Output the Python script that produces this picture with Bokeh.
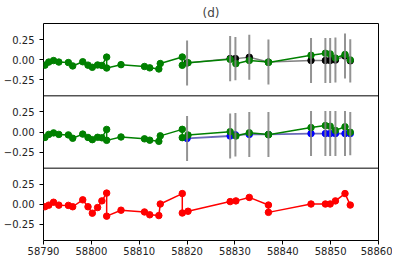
from bokeh.plotting import figure
from bokeh.models import Range1d, FixedTicker, ColumnDataSource, Span
from bokeh.embed import file_html
from bokeh.resources import INLINE

# ---- data ----
t = [58790.3, 58791.1, 58792.1, 58793.2, 58795.2, 58796.1, 58798.2, 58799.3,
     58800.2, 58801.3, 58802.2, 58803.2, 58803.2, 58806.2, 58811.1, 58812.2,
     58814.1, 58814.4, 58819.0, 58819.0, 58820.2, 58829.0, 58830.2, 58833.0,
     58837.0, 58837.0, 58845.9, 58848.9, 58849.9, 58851.0, 58853.0, 58854.1]
green = [-0.068, -0.03, -0.011, -0.03, -0.036, -0.078, -0.026, -0.068,
         -0.095, -0.066, -0.072, 0.032, -0.104, -0.062, -0.085, -0.102,
         -0.116, -0.048, 0.033, -0.07, -0.038, 0.004, -0.05, -0.01,
         -0.03, -0.035, 0.055, 0.08, 0.072, 0.02, 0.065, -0.003]
red = [-0.03, -0.01, 0.026, -0.01, -0.013, -0.03, 0.056, -0.03,
       -0.11, -0.04, 0.043, 0.14, -0.147, -0.073, -0.095, -0.13,
       -0.14, 0.004, 0.134, -0.108, -0.086, 0.034, 0.043, 0.086,
       -0.009, -0.10, 0.004, 0.004, 0.004, 0.043, 0.134, -0.009]
tm = [58820.0, 58829.0, 58830.1, 58833.0, 58837.0, 58845.9, 58848.9,
      58849.9, 58851.0, 58853.0, 58854.1]
black = [-0.04, 0.013, 0.013, 0.03, -0.03, -0.01, -0.01, -0.01, -0.005, 0.045, -0.015]
blue = [-0.08, -0.05, -0.035, -0.03, -0.03, -0.02, -0.02, -0.02, -0.02, -0.02, -0.02]
err = [0.28, 0.28, 0.27, 0.28, 0.28, 0.28, 0.28, 0.28, 0.28, 0.28, 0.27]
yticks = [-0.25, 0.0, 0.25]
ytick_labels = ["\u22120.25", "0.00", "0.25"]
xticks = [58790, 58800, 58810, 58820, 58830, 58840, 58850, 58860]
x_start, x_end = 58790, 58860
y_start, y_end = -0.45, 0.45

FONT = "DejaVu Sans"
H = y_end - y_start  # height of one panel in data units

# three stacked panels inside one frame: panel k (0 = bottom) uses its own y-range
def panel_range(k):
    return Range1d(y_start - k * H, y_end + (2 - k) * H)

p = figure(x_range=Range1d(x_start, x_end), y_range=panel_range(0),
           frame_width=335, frame_height=217,
           output_backend="svg", toolbar_location=None,
           min_border_left=37, min_border_right=14,
           min_border_top=0, min_border_bottom=0,
           background_fill_color="white", border_fill_color="white")
p.extra_y_ranges = {"top": panel_range(2), "mid": panel_range(1)}
p.grid.visible = False
p.outline_line_color = "black"
p.outline_line_width = 1
p.outline_line_alpha = 1

# panel separators
for k in (1, 2):
    p.add_layout(Span(location=y_start + k * H, dimension="width",
                      line_color="black", line_width=1))

# y axis: same ticks repeated for each panel
all_ticks, overrides = [], {}
for k in range(3):
    for tv, lab in zip(yticks, ytick_labels):
        pos = round(tv + k * H, 6)
        all_ticks.append(pos)
        overrides[pos] = lab
ya = p.yaxis[0]
ya.ticker = FixedTicker(ticks=all_ticks)
ya.major_label_overrides = overrides
ya.minor_tick_line_color = None
ya.major_tick_out = 4
ya.major_tick_in = 0
ya.major_label_standoff = 5
ya.axis_line_color = None
ya.major_label_text_font = FONT
ya.major_label_text_font_size = "10px"
ya.major_label_text_color = "#222222"

xa = p.xaxis[0]
xa.ticker = FixedTicker(ticks=xticks)
xa.minor_tick_line_color = None
xa.major_tick_out = 4
xa.major_tick_in = 0
xa.major_label_standoff = 2
xa.axis_line_color = None
xa.major_label_text_font = FONT
xa.major_label_text_font_size = "10px"
xa.major_label_text_color = "#222222"

p.title.text = "(d)"
p.title.align = "center"
p.title.text_font = FONT
p.title.text_font_size = "12px"
p.title.text_font_style = "normal"
p.title.standoff = 7

src_d = ColumnDataSource(dict(t=t, green=green, red=red))
src_m = ColumnDataSource(dict(
    t=tm, black=black, blue=blue,
    blo=[b - e for b, e in zip(black, err)], bhi=[b + e for b, e in zip(black, err)],
    ulo=[b - e for b, e in zip(blue, err)], uhi=[b + e for b, e in zip(blue, err)],
))

# top panel: data (green) and model (black/gray) with error bars
p.line("t", "black", source=src_m, color="gray", line_width=1.5, y_range_name="top")
p.scatter("t", "black", source=src_m, color="black", size=6.5, y_range_name="top")
p.line("t", "green", source=src_d, color="green", line_width=1.5, y_range_name="top")
p.scatter("t", "green", source=src_d, color="green", size=6.5, y_range_name="top")
p.segment(x0="t", y0="blo", x1="t", y1="bhi", source=src_m, color="gray",
          line_width=2, line_alpha=0.85, y_range_name="top")

# middle panel: data (green) and model (blue) with error bars
p.line("t", "blue", source=src_m, color="#6a6ab8", line_width=1.8, y_range_name="mid")
p.scatter("t", "blue", source=src_m, color="blue", size=6.5, y_range_name="mid")
p.line("t", "green", source=src_d, color="green", line_width=1.5, y_range_name="mid")
p.scatter("t", "green", source=src_d, color="green", size=6.5, y_range_name="mid")
p.segment(x0="t", y0="ulo", x1="t", y1="uhi", source=src_m, color="gray",
          line_width=2, line_alpha=0.85, y_range_name="mid")

# bottom panel: red series
p.line("t", "red", source=src_d, color="red", line_width=1.5)
p.scatter("t", "red", source=src_d, color="red", size=6.5)

open("out.html", "w").write(file_html(p, INLINE))
